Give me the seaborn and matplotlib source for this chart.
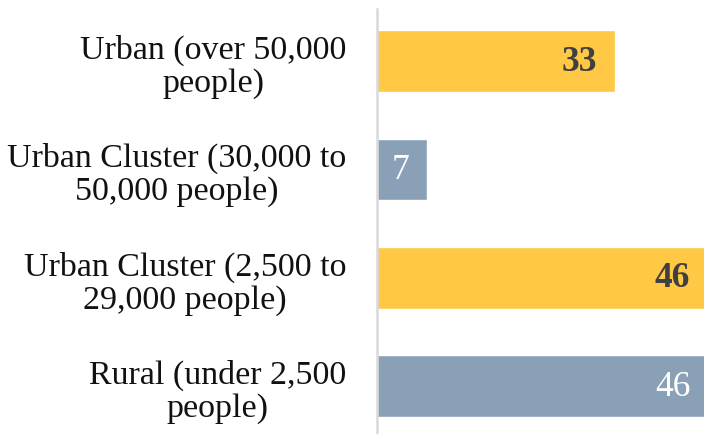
import matplotlib
matplotlib.use("Agg")
import matplotlib.pyplot as plt
import seaborn as sns
import pandas as pd

categories = [
    "Urban (over 50,000\npeople)",
    "Urban Cluster (30,000 to\n50,000 people)",
    "Urban Cluster (2,500 to\n29,000 people)",
    "Rural (under 2,500\npeople)",
]
values = [33, 7, 46, 46]
bar_colors = ["#FFC845", "#8AA0B7", "#FFC845", "#8AA0B7"]
label_colors = ["#404040", "#FFFFFF", "#404040", "#FFFFFF"]
label_weights = ["bold", "normal", "bold", "normal"]

sns.set_theme(style="white")
plt.rcParams["font.family"] = ["Liberation Serif", "DejaVu Serif"]

df = pd.DataFrame({"category": categories, "value": values})

fig = plt.figure(figsize=(7.04, 4.35), dpi=100)
ax = fig.add_axes([377 / 704, 0.0, 1 - 377 / 704, 1 - 10 / 435])

sns.barplot(
    data=df, x="value", y="category", hue="category",
    palette=bar_colors, legend=False, width=0.57, ax=ax,
    saturation=1,
)

ax.set_xlim(0, 45.4)
ax.set_ylim(3.44, -0.48)
ax.set_xlabel("")
ax.set_ylabel("")
ax.set_xticks([])
ax.tick_params(axis="y", length=0, pad=22)
for lbl in ax.get_yticklabels():
    lbl.set_fontsize(24.5)
    lbl.set_color("#111111")
    lbl.set_multialignment("center")
    lbl.set_linespacing(1.1)

for side in ["top", "right", "bottom"]:
    ax.spines[side].set_visible(False)
ax.spines["left"].set_color("#D9D9D9")
ax.spines["left"].set_linewidth(1.8)

for i, (v, c, w) in enumerate(zip(values, label_colors, label_weights)):
    ax.annotate(
        str(v), xy=(v, i), xytext=(-13, 0), textcoords="offset points",
        ha="right", va="center", fontsize=25.5, color=c, fontweight=w,
        annotation_clip=False,
    )

fig.savefig("out.png", dpi=100)
